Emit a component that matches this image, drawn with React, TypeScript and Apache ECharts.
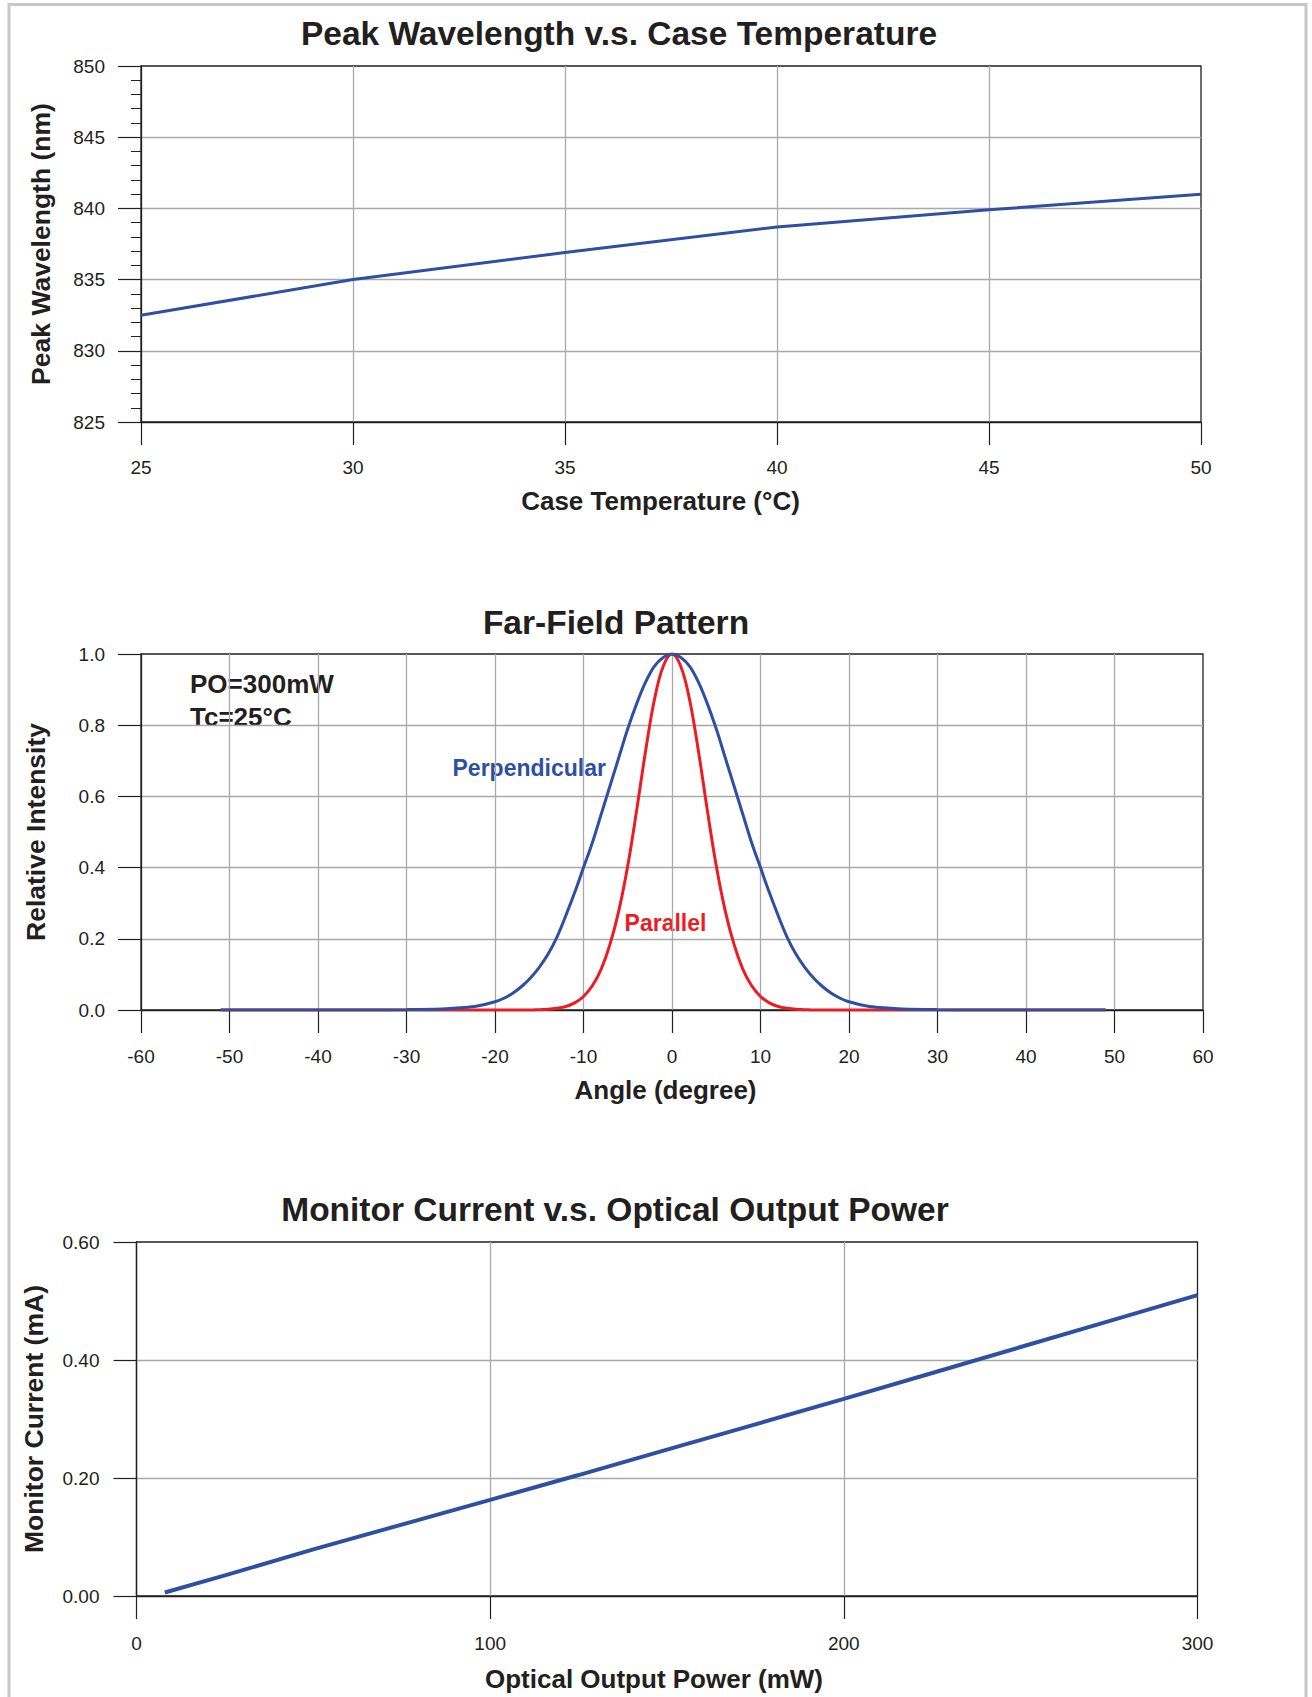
import React, { useEffect, useRef } from 'react';
import * as echarts from 'echarts';

// ---- Chart 1: Peak Wavelength vs Case Temperature ----
const tempC = [25, 30, 35, 40, 45, 50];
const peakNm = [832.5, 835.0, 836.9, 838.7, 839.9, 841.0];

// ---- Chart 2: Far-Field Pattern ----
const angleDeg = [
  -51, -45, -40, -35, -30, -26, -24, -22, -20,
  -19, -18, -17, -16, -15, -14, -13, -12, -11, -10,
  -9, -8, -7, -6, -5, -4, -3, -2, -1, 0,
  1, 2, 3, 4, 5, 6, 7, 8, 9, 10,
  11, 12, 13, 14, 15, 16, 17, 18, 19,
  20, 22, 24, 26, 30, 35, 40, 45, 49,
];
const perpendicular = [
  0, 0, 0, 0, 0.001, 0.003, 0.006, 0.011, 0.023,
  0.033, 0.047, 0.066, 0.09, 0.12, 0.157, 0.205, 0.265, 0.33, 0.40,
  0.47, 0.55, 0.63, 0.71, 0.79, 0.86, 0.92, 0.965, 0.99, 1.0,
  0.99, 0.965, 0.92, 0.86, 0.79, 0.71, 0.63, 0.55, 0.47, 0.40,
  0.33, 0.265, 0.205, 0.157, 0.12, 0.09, 0.066, 0.047, 0.033,
  0.023, 0.011, 0.006, 0.003, 0.001, 0, 0, 0, 0,
];
const parallel = [
  0, 0, 0, 0, 0, 0, 0, 0, 0,
  0, 0, 0, 0, 0.001, 0.002, 0.005, 0.01, 0.02, 0.038,
  0.068, 0.115, 0.185, 0.28, 0.405, 0.56, 0.725, 0.87, 0.965, 1.0,
  0.965, 0.87, 0.725, 0.56, 0.405, 0.28, 0.185, 0.115, 0.068, 0.038,
  0.02, 0.01, 0.005, 0.002, 0.001, 0, 0, 0, 0,
  0, 0, 0, 0, 0, 0, 0, 0, 0,
];

// ---- Chart 3: Monitor Current vs Optical Output Power ----
const powerMw = [8, 25, 50, 75, 100, 125, 150, 175, 200, 225, 250, 275, 300];
const monitorMa = [0.006, 0.035, 0.079, 0.121, 0.163, 0.205, 0.248, 0.291, 0.334, 0.378, 0.422, 0.466, 0.51];

const FONT = '"Liberation Sans", Arial, Helvetica, sans-serif';
const TXT = '#231f20';
const GRID = '#a9a9a9';
const BLUE = '#2f50a2';
const RED = '#ed1c24';

const pairs = (xs: number[], ys: number[]) => xs.map((x, i) => [x, ys[i]]);

function xAxisCfg(gridIndex: number, min: number, max: number, interval: number, name: string, nameGap: number, padRight: number, labelMargin: number) {
  return {
    type: 'value', gridIndex, min, max, interval,
    name, nameLocation: 'middle', nameGap,
    nameTextStyle: { fontFamily: FONT, fontWeight: 'bold', fontSize: 26, color: TXT, padding: [0, padRight, 0, 0] },
    axisLine: { show: true, onZero: false, lineStyle: { color: TXT, width: 1.3 } },
    axisTick: { show: true, inside: false, length: 23, lineStyle: { color: TXT, width: 1.2 } },
    axisLabel: { margin: labelMargin, fontFamily: FONT, fontSize: 19, color: TXT },
    splitLine: { show: true, showMinLine: false, showMaxLine: false, lineStyle: { color: GRID, width: 1.3 } },
  };
}

function yAxisCfg(gridIndex: number, min: number, max: number, interval: number, name: string, nameGap: number, labelMargin: number, decimals: number, minor: boolean) {
  return {
    type: 'value', gridIndex, min, max, interval,
    name, nameLocation: 'middle', nameGap,
    nameTextStyle: { fontFamily: FONT, fontWeight: 'bold', fontSize: 26.5, color: TXT },
    axisLine: { show: true, onZero: false, lineStyle: { color: TXT, width: 1.3 } },
    axisTick: { show: true, inside: false, length: 23, lineStyle: { color: TXT, width: 1.2 } },
    minorTick: { show: minor, splitNumber: 5, length: 10, lineStyle: { color: TXT, width: 1 } },
    axisLabel: { margin: labelMargin, fontFamily: FONT, fontSize: 19, color: TXT, formatter: (v: number) => v.toFixed(decimals) },
    splitLine: { show: true, showMinLine: false, showMaxLine: false, lineStyle: { color: GRID, width: 1.3 } },
  };
}

function textEl(text: string, x: number, y: number, size: number, color: string, align: string) {
  return {
    type: 'text', x, y, silent: true,
    style: { text, fill: color, fontFamily: FONT, fontWeight: 'bold', fontSize: size, textAlign: align, textVerticalAlign: 'middle' },
  };
}

export default function App() {
  const ref = useRef<HTMLDivElement>(null);
  useEffect(() => {
    if (!ref.current) return;
    const chart = echarts.init(ref.current, null, { renderer: 'svg' });
    const gridBase = { show: true, borderColor: TXT, borderWidth: 1.3, backgroundColor: 'transparent', containLabel: false };
    chart.setOption({
      animation: false,
      backgroundColor: '#ffffff',
      grid: [
        { ...gridBase, left: 141, top: 66, width: 1060, height: 356 },
        { ...gridBase, left: 141, top: 654, width: 1062, height: 356 },
        { ...gridBase, left: 136.5, top: 1242, width: 1061, height: 354 },
      ],
      xAxis: [
        xAxisCfg(0, 25, 50, 5, 'Case Temperature (°C)', 66, 21, 36),
        xAxisCfg(1, -60, 60, 10, 'Angle (degree)', 67, 13, 37),
        xAxisCfg(2, 0, 300, 100, 'Optical Output Power (mW)', 70, 26, 38),
      ],
      yAxis: [
        yAxisCfg(0, 825, 850, 5, 'Peak Wavelength (nm)', 86.5, 36, 0, true),
        yAxisCfg(1, 0, 1, 0.2, 'Relative Intensity', 91.5, 36, 1, false),
        yAxisCfg(2, 0, 0.6, 0.2, 'Monitor Current (mA)', 89.5, 37, 2, false),
      ],
      series: [
        {
          name: 'Peak Wavelength', type: 'line', xAxisIndex: 0, yAxisIndex: 0,
          data: pairs(tempC, peakNm), showSymbol: false, symbol: 'none',
          lineStyle: { color: BLUE, width: 3 }, itemStyle: { color: BLUE },
        },
        {
          name: 'Parallel', type: 'line', xAxisIndex: 1, yAxisIndex: 1,
          data: pairs(angleDeg, parallel), showSymbol: false, symbol: 'none', smooth: 0.4,
          lineStyle: { color: RED, width: 3 }, itemStyle: { color: RED },
        },
        {
          name: 'Perpendicular', type: 'line', xAxisIndex: 1, yAxisIndex: 1,
          data: pairs(angleDeg, perpendicular), showSymbol: false, symbol: 'none', smooth: 0.35,
          lineStyle: { color: BLUE, width: 3 }, itemStyle: { color: BLUE },
        },
        {
          name: 'Monitor Current', type: 'line', xAxisIndex: 2, yAxisIndex: 2,
          data: pairs(powerMw, monitorMa), showSymbol: false, symbol: 'none',
          lineStyle: { color: BLUE, width: 4 }, itemStyle: { color: BLUE },
        },
      ],
      graphic: [
        {
          type: 'rect', silent: true, z: -1,
          shape: { x: 9, y: 4.5, width: 1297, height: 1800 },
          style: { fill: 'none', stroke: '#c8c8c8', lineWidth: 3 },
        },
        textEl('Peak Wavelength v.s. Case Temperature', 619, 33.5, 33.5, TXT, 'center'),
        textEl('Far-Field Pattern', 616, 622, 33.5, TXT, 'center'),
        textEl('Monitor Current v.s. Optical Output Power', 615, 1209, 33.5, TXT, 'center'),
        textEl('PO=300mW', 190, 684, 26, TXT, 'left'),
        textEl('Tc=25°C', 190, 716.5, 26, TXT, 'left'),
        textEl('Perpendicular', 452.5, 767.5, 23, BLUE, 'left'),
        textEl('Parallel', 624.6, 923.4, 23, RED, 'left'),
      ],
    });
    return () => chart.dispose();
  }, []);
  return <div ref={ref} style={{ position: 'absolute', left: 0, top: 0, width: 1312, height: 1697 }} />;
}
